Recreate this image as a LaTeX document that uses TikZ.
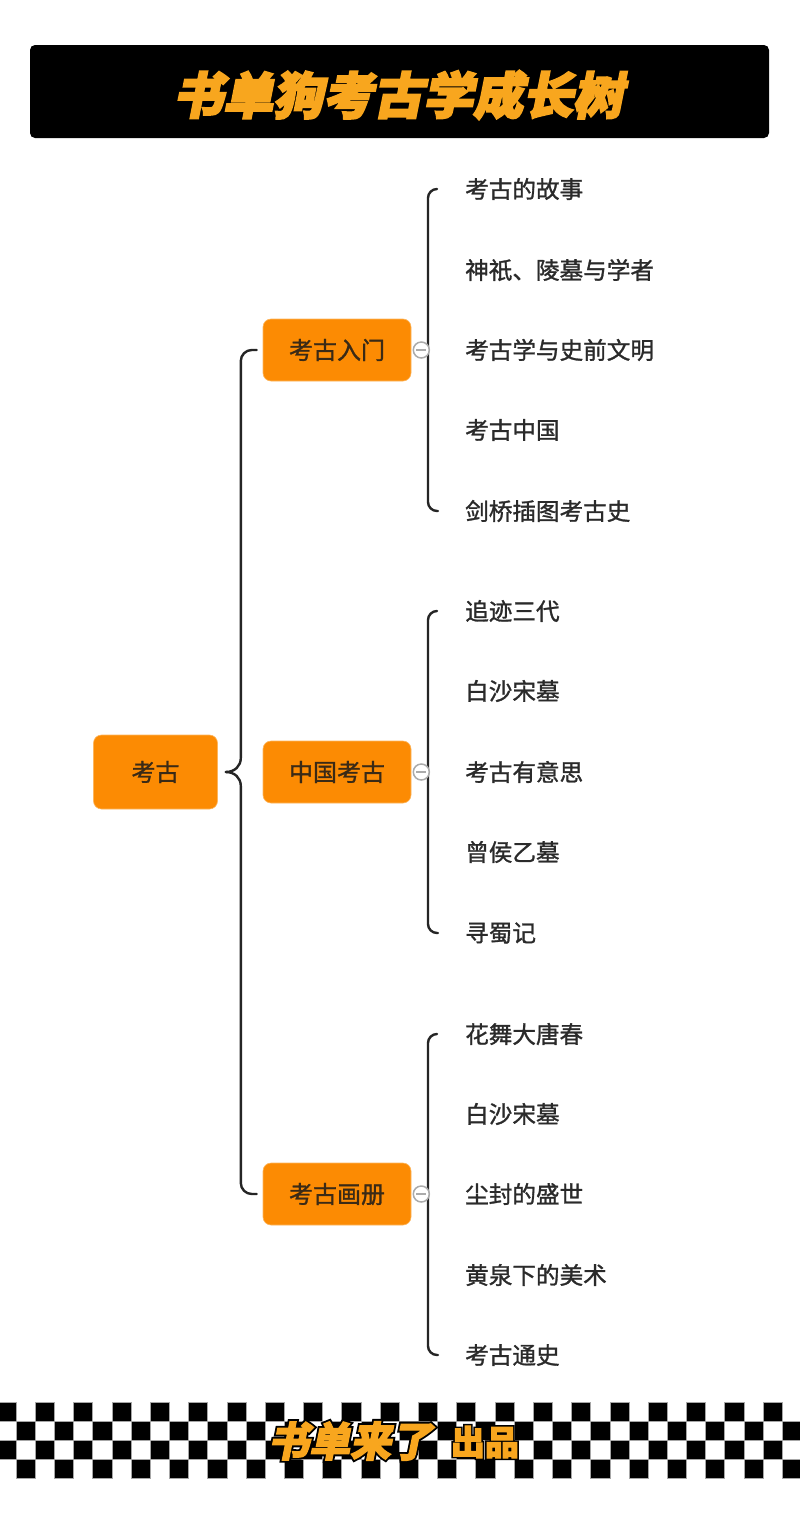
\documentclass[tikz,border=0pt]{standalone}
\usepackage{fontspec}
\setmainfont{Noto Sans CJK SC}
\newfontfamily\medfont[FakeBold=1.2]{Noto Sans CJK SC}
\newfontfamily\titlefont[FakeSlant=0.2,FakeBold=4]{Noto Sans CJK SC}
\newfontfamily\footfont[FakeSlant=0.2,FakeBold=3]{Noto Sans CJK SC}
\newfontfamily\footoutfont[FakeSlant=0.2,FakeBold=12]{Noto Sans CJK SC}
\newfontfamily\footfontup[FakeBold=3]{Noto Sans CJK SC}
\newfontfamily\footoutfontup[FakeBold=12]{Noto Sans CJK SC}
\usetikzlibrary{calc}
\definecolor{boxc}{HTML}{FC8B03}
\definecolor{boxedge}{HTML}{FDB65E}
\definecolor{boxtext}{HTML}{3A2A16}
\definecolor{leaftext}{HTML}{2A2A2A}
\definecolor{linec}{HTML}{252525}
\definecolor{foldc}{HTML}{ABABAB}
\definecolor{titleorange}{HTML}{F8A61E}
\begin{document}
\begin{tikzpicture}[x=1pt,y=-1pt,
  conn/.style={draw=linec,line width=2.4pt,line cap=round},
  topic/.style={fill=boxc,draw=boxedge,line width=0.6pt,rounded corners=8pt,inner sep=0pt,text=boxtext,font=\medfont\fontsize{24}{24}\selectfont},
  leaf/.style={anchor=west,inner sep=0pt,text=leaftext,font=\medfont\fontsize{23.6}{24}\selectfont},
  fold/.style={circle,draw=foldc,line width=1.5pt,fill=white,minimum size=16pt,inner sep=0pt}]
\useasboundingbox (0,0) rectangle (800,1523);
\fill[white] (0,0) rectangle (800,1523);
% title bar
\node[fill=black,rounded corners=5pt,minimum width=739pt,minimum height=93pt,inner sep=0pt] (bar) at (399.5,91.5) {};
\node[text=titleorange,font=\titlefont\bfseries\fontsize{50}{50}\selectfont,inner sep=0pt] (title) at (398,95) {书单狗考古学成长树};
% topics
\node[topic,minimum width=124pt,minimum height=74pt] (root) at (155.5,772) {考古};
\node[topic,minimum width=148pt,minimum height=62pt] (c1) at (337,350) {考古入门};
\node[topic,minimum width=148pt,minimum height=62pt] (c2) at (337,772) {中国考古};
\node[topic,minimum width=148pt,minimum height=62pt] (c3) at (337,1194) {考古画册};
% leaves
\node[leaf] (a1) at (465,189) {考古的故事};
\node[leaf] (a2) at (465,270) {神祇、陵墓与学者};
\node[leaf] (a3) at (465,350) {考古学与史前文明};
\node[leaf] (a4) at (465,430) {考古中国};
\node[leaf] (a5) at (465,511) {剑桥插图考古史};
\node[leaf] (b1) at (465,611) {追迹三代};
\node[leaf] (b2) at (465,691) {白沙宋墓};
\node[leaf] (b3) at (465,772) {考古有意思};
\node[leaf] (b4) at (465,852) {曾侯乙墓};
\node[leaf] (b5) at (465,933) {寻蜀记};
\node[leaf] (d1) at (465,1034) {花舞大唐春};
\node[leaf] (d2) at (465,1114) {白沙宋墓};
\node[leaf] (d3) at (465,1194) {尘封的盛世};
\node[leaf] (d4) at (465,1275) {黄泉下的美术};
\node[leaf] (d5) at (465,1355) {考古通史};
% root brace
\coordinate (T) at ($(root.east)+(8,0)$);
\draw[conn] (T) .. controls +(9,0) and +(0,8) .. ($(T)+(15,-14)$) [rounded corners=11pt] |- ($(c1.west)+(-6,0)$);
\draw[conn] (T) .. controls +(9,0) and +(0,-8) .. ($(T)+(15,14)$) [rounded corners=11pt] |- ($(c3.west)+(-6,0)$);
% leaf brackets
\foreach \g in {a,b,d} {
  \draw[conn,rounded corners=9pt] ($(\g1.west)+(-28,0)$) -- ($(\g1.west)+(-37,0)$) -- ($(\g5.west)+(-37,0)$) -- ($(\g5.west)+(-27,0)$);
}
% fold circles
\foreach \c in {c1,c2,c3} {
  \node[fold] (f\c) at ($(\c.east)+(10,0)$) {};
  \draw[foldc,line width=1.5pt] ($(f\c.center)+(-5,0)$) -- ($(f\c.center)+(5,0)$);
}
% checkerboard footer
\begin{scope}
\clip (0,1400) rectangle (800,1480);
\foreach \r in {0,...,3} {
  \pgfmathsetmacro{\off}{-3+mod(\r,2)*19.15}
  \foreach \k in {0,...,21} {
    \fill[black,draw=gray!70,line width=0.6pt] ({\off+38.3*\k},{1402+19*\r}) rectangle +(19.15,19);
  }
}
\end{scope}
\node[text=black,inner sep=0pt,font=\footoutfont\bfseries\fontsize{41}{41}\selectfont] (fo1) at (350,1441) {书单来了};
\node[text=black,inner sep=0pt,font=\footoutfontup\bfseries\fontsize{34}{34}\selectfont] (fo2) at (485,1442) {出品};
\node[text=titleorange,inner sep=0pt,font=\footfont\bfseries\fontsize{41}{41}\selectfont] (ft1) at (350,1441) {书单来了};
\node[text=titleorange,inner sep=0pt,font=\footfontup\bfseries\fontsize{34}{34}\selectfont] (ft2) at (485,1442) {出品};
\end{tikzpicture}
\end{document}
